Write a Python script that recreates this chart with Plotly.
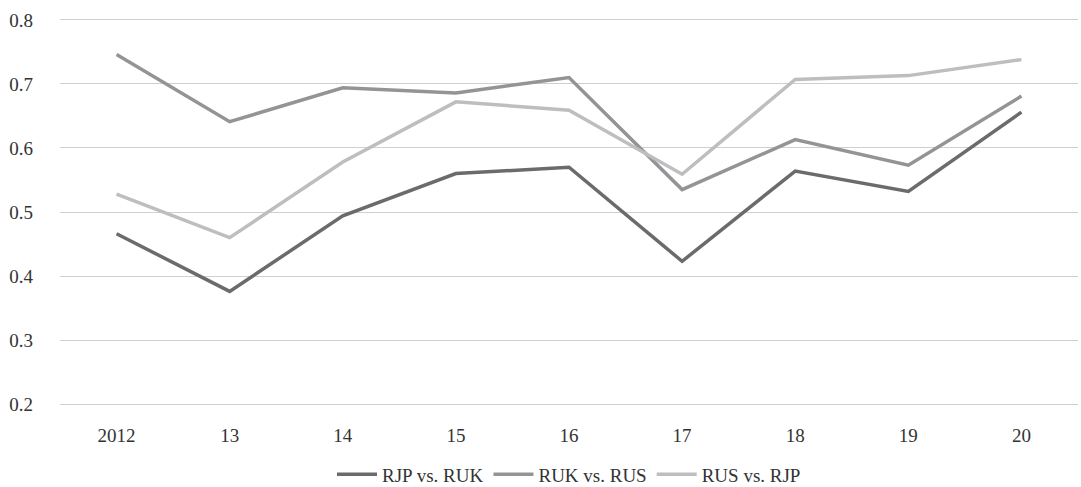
import plotly.graph_objects as go

# Year labels along the x axis
years = ["2012", "13", "14", "15", "16", "17", "18", "19", "20"]

# Correlation series per pair
rjp_vs_ruk = [0.466, 0.376, 0.494, 0.560, 0.570, 0.423, 0.564, 0.532, 0.656]
ruk_vs_rus = [0.746, 0.641, 0.694, 0.686, 0.710, 0.535, 0.613, 0.573, 0.681]
rus_vs_rjp = [0.528, 0.460, 0.578, 0.672, 0.659, 0.559, 0.707, 0.713, 0.738]

series = [
    ("RJP vs. RUK", rjp_vs_ruk, "#6b6b6e"),
    ("RUK vs. RUS", ruk_vs_rus, "#949497"),
    ("RUS vs. RJP", rus_vs_rjp, "#bebec1"),
]

font_family = "Liberation Serif"
text_color = "#333333"

fig = go.Figure()
for name, values, color in series:
    fig.add_trace(go.Scatter(
        x=years, y=values, name=name, mode="lines",
        line=dict(color=color, width=3.5),
    ))

fig.update_layout(
    width=1081, height=487,
    margin=dict(l=60, r=3, t=18, b=81, autoexpand=False),
    paper_bgcolor="white", plot_bgcolor="white",
    font=dict(family=font_family, size=19, color=text_color),
    showlegend=True,
    legend=dict(
        orientation="h", x=0.5, xanchor="center", y=-0.176, yanchor="middle",
        font=dict(family=font_family, size=19, color=text_color),
        traceorder="normal", itemwidth=40,
    ),
)
fig.update_xaxes(
    type="category", range=[-0.5, 8.5], showgrid=False, zeroline=False,
    showline=False, ticks="", ticklabelstandoff=16,
    tickfont=dict(family=font_family, size=19, color=text_color),
)
fig.update_yaxes(
    range=[0.197, 0.803], dtick=0.1, tick0=0.2, tickformat=".1f",
    showgrid=True, gridcolor="#d0d0d0", gridwidth=1, zeroline=False,
    showline=False, ticks="", ticklabelstandoff=26,
    tickfont=dict(family=font_family, size=19, color=text_color),
)

fig.write_html("out.html")
